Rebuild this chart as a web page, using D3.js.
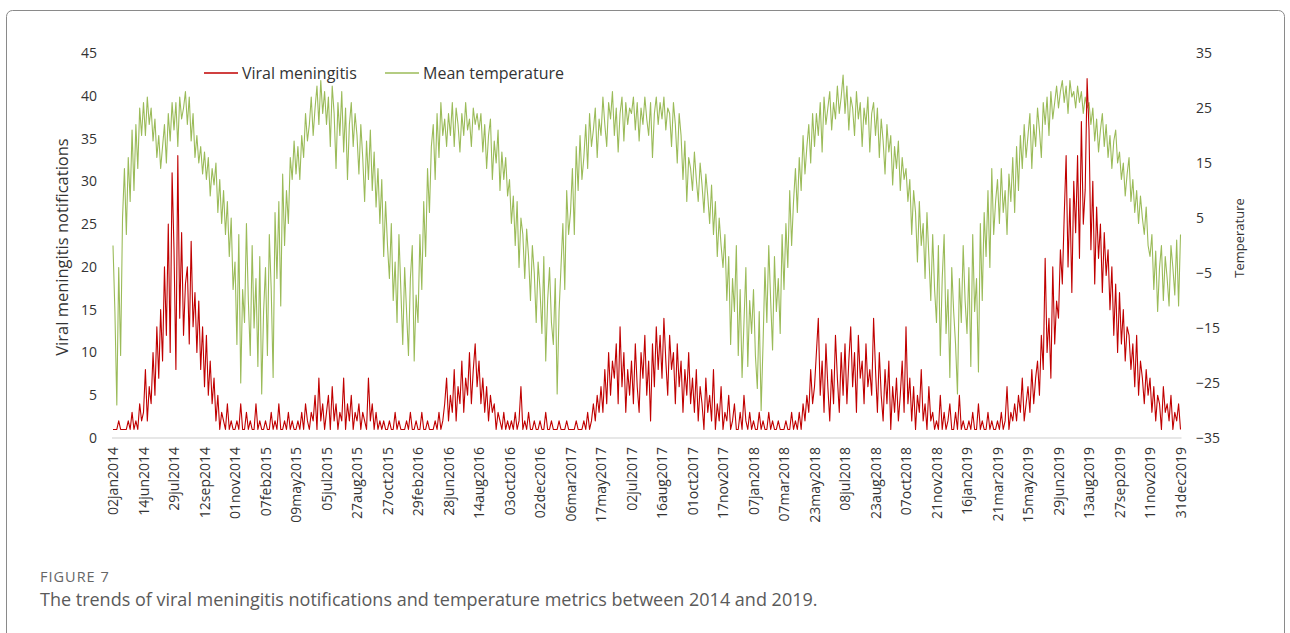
<!DOCTYPE html>
<html>
<head>
<meta charset="utf-8">
<script src="https://cdn.jsdelivr.net/npm/d3@7"></script>
<style>
  body { margin: 0; background: #fff; }
  text { font-family: "Open Sans", sans-serif; fill: #333; }
</style>
</head>
<body>
<div class="chart"></div>
<script>
// tick labels on the x axis (one every 16 samples)
var dateLabels = ["02jan2014", "14jun2014", "29jul2014", "12sep2014", "01nov2014", "07feb2015",
  "09may2015", "05jul2015", "27aug2015", "27oct2015", "29feb2016", "28jun2016", "14aug2016",
  "03oct2016", "02dec2016", "06mar2017", "17may2017", "02jul2017", "16aug2017", "01oct2017",
  "17nov2017", "07jan2018", "07mar2018", "23may2018", "08jul2018", "23aug2018", "07oct2018",
  "21nov2018", "16jan2019", "21mar2019", "15may2019", "29jun2019", "13aug2019", "27sep2019",
  "11nov2019", "31dec2019"];

var leftTicks = [0, 5, 10, 15, 20, 25, 30, 35, 40, 45];
var rightTicks = [-35, -25, -15, -5, 5, 15, 25, 35];

// viral meningitis notifications (one row per label gap)
var cases = [
  1, 1, 1, 2, 1, 1, 1, 1, 2, 1, 3, 1, 2, 1, 4, 2,
  3, 8, 2, 6, 4, 10, 5, 13, 7, 15, 9, 20, 12, 25, 10, 31,
  22, 8, 33, 14, 24, 12, 18, 20, 11, 23, 13, 17, 10, 16, 8, 13,
  6, 12, 5, 9, 4, 7, 2, 5, 1, 3, 2, 1, 4, 1, 2, 1,
  1, 2, 1, 4, 1, 1, 3, 1, 2, 1, 1, 4, 1, 2, 1, 1,
  2, 1, 1, 3, 1, 2, 1, 4, 1, 1, 2, 1, 3, 1, 2, 1,
  1, 2, 1, 3, 1, 4, 2, 1, 3, 2, 5, 1, 7, 2, 4, 1,
  3, 5, 1, 6, 2, 4, 1, 3, 2, 7, 1, 4, 2, 5, 1, 3,
  2, 4, 1, 3, 2, 1, 7, 2, 4, 1, 3, 1, 2, 1, 2, 1,
  1, 2, 1, 1, 3, 1, 2, 1, 1, 1, 2, 1, 3, 1, 1, 2,
  1, 1, 3, 1, 1, 2, 1, 1, 1, 2, 1, 3, 1, 2, 4, 7,
  2, 5, 3, 8, 2, 6, 4, 9, 3, 7, 5, 10, 4, 8, 11, 6,
  9, 4, 7, 3, 6, 2, 5, 3, 4, 1, 3, 2, 1, 3, 1, 2,
  1, 2, 1, 3, 1, 2, 6, 1, 2, 1, 3, 1, 1, 2, 1, 1,
  2, 1, 1, 3, 1, 1, 2, 1, 1, 1, 2, 1, 1, 1, 2, 1,
  1, 1, 1, 2, 1, 1, 1, 2, 1, 3, 1, 2, 4, 2, 5, 3,
  6, 3, 8, 4, 10, 5, 9, 7, 11, 4, 13, 6, 10, 3, 8, 5,
  9, 4, 11, 6, 3, 10, 7, 12, 5, 9, 2, 11, 6, 13, 8, 12,
  7, 14, 9, 5, 12, 8, 10, 4, 11, 6, 9, 3, 8, 5, 10, 4,
  7, 3, 8, 2, 6, 4, 1, 7, 3, 5, 2, 8, 1, 4, 2, 6,
  1, 3, 2, 5, 1, 2, 4, 1, 1, 3, 1, 5, 2, 1, 3, 1,
  2, 1, 1, 3, 1, 2, 1, 1, 3, 1, 2, 1, 1, 2, 1, 1,
  1, 2, 1, 1, 3, 1, 2, 1, 3, 1, 4, 2, 5, 3, 8, 4,
  6, 10, 14, 5, 9, 3, 11, 6, 2, 8, 4, 12, 7, 3, 10, 5,
  11, 4, 9, 13, 6, 10, 3, 12, 7, 9, 4, 11, 6, 8, 5, 14,
  8, 3, 10, 5, 2, 8, 4, 9, 1, 6, 3, 7, 2, 5, 9, 3,
  13, 4, 7, 2, 6, 1, 5, 3, 8, 2, 4, 1, 6, 2, 3, 1,
  2, 1, 5, 1, 3, 1, 2, 4, 1, 1, 3, 1, 5, 1, 2, 1,
  1, 2, 1, 3, 1, 1, 4, 1, 2, 1, 1, 3, 1, 2, 1, 1,
  2, 1, 3, 1, 2, 6, 1, 3, 2, 4, 2, 5, 3, 7, 2, 4,
  6, 3, 8, 4, 7, 9, 5, 12, 8, 21, 10, 14, 7, 20, 11, 16,
  14, 22, 18, 26, 33, 20, 28, 17, 30, 24, 33, 21, 37, 25, 29, 42,
  36, 22, 30, 18, 27, 21, 25, 17, 24, 19, 22, 15, 20, 12, 18, 10,
  17, 11, 15, 9, 13, 12, 8, 11, 6, 12, 5, 9, 7, 4, 8, 5,
  7, 3, 6, 2, 5, 4, 1, 6, 3, 4, 2, 5, 1, 3, 2, 4,
  1];

// mean temperature (one row per label gap)
var temperature = [
  0, -12, -29, -4, -20, 5, 14, 2, 16, 8, 21, 10, 22, 14, 25, 20,
  26, 20, 27, 22, 25, 19, 23, 16, 20, 14, 18, 22, 15, 24, 19, 26,
  21, 26, 18, 27, 23, 25, 28, 22, 27, 19, 24, 16, 20, 15, 18, 13,
  17, 12, 16, 9, 14, 11, 15, 6, 12, 4, 10, 2, 8, -2, 5, -8,
  -3, -18, 2, -25, -8, -14, 4, -10, -20, 0, -15, -6, -22, -2, -27, -12,
  -4, -20, 2, -8, -24, 6, -6, 8, -11, 13, 0, 10, 4, 16, 12, 19,
  13, 18, 12, 20, 16, 24, 19, 22, 27, 20, 25, 29, 22, 30, 24, 28,
  22, 27, 18, 29, 24, 14, 26, 20, 28, 17, 25, 12, 22, 26, 18, 24,
  20, 13, 22, 16, 8, 19, 12, 21, 10, 17, 7, 14, 4, 12, -2, 8,
  0, -6, 4, -10, -3, -14, 2, -8, -18, -4, -12, -20, -6, 0, -21, -9,
  -14, 2, -8, 8, -2, 14, 6, 18, 22, 12, 24, 16, 26, 20, 23, 18,
  24, 20, 26, 18, 25, 22, 17, 24, 20, 26, 21, 23, 18, 25, 22, 24,
  21, 24, 17, 22, 14, 20, 23, 12, 19, 15, 21, 10, 17, 12, 16, 9,
  12, 4, 9, 0, 8, -4, 5, 2, -6, 3, -2, -10, 0, -5, -14, -3,
  -8, -16, -2, -21, -10, -4, -14, -18, -6, -27, -12, -4, 4, -8, 10, 2,
  6, 14, 2, 18, 10, 20, 12, 16, 22, 14, 24, 18, 21, 25, 16, 23,
  20, 27, 22, 18, 26, 23, 28, 20, 25, 17, 24, 27, 19, 26, 22, 25,
  24, 27, 21, 26, 19, 25, 22, 27, 23, 20, 26, 16, 24, 27, 22, 26,
  23, 27, 21, 25, 24, 18, 26, 22, 15, 24, 20, 12, 19, 8, 16, 14,
  10, 17, 12, 8, 15, 11, 6, 13, 9, 4, 11, 2, 8, -2, 5, 0,
  -4, 2, -10, -2, -18, -6, -12, 0, -20, -8, -24, -14, -4, -22, -10, -16,
  -8, -20, -26, -12, -30, -18, -4, -14, 0, -10, -19, -2, -12, -6, -16, 2,
  -8, 4, -4, 10, 0, 8, 14, 6, 16, 10, 20, 13, 18, 22, 15, 24,
  18, 24, 20, 26, 17, 27, 22, 25, 28, 21, 26, 23, 29, 24, 27, 31,
  24, 29, 21, 27, 25, 20, 28, 23, 26, 18, 25, 22, 27, 17, 24, 26,
  20, 25, 16, 23, 19, 13, 22, 17, 20, 11, 18, 14, 19, 10, 16, 12,
  14, 8, 12, 2, 10, 6, -3, 8, 0, 4, -6, 6, -2, -10, 2, -8,
  -14, 0, -20, -6, 2, -16, -8, -24, -4, -12, -18, -27, -6, -14, 0, -10,
  -16, -4, -22, 2, -12, -6, -23, 4, -10, 6, -2, 10, -4, 14, 2, 8,
  12, 4, 14, 6, 10, 2, 13, 8, 16, 6, 18, 10, 20, 14, 22, 16,
  20, 24, 14, 22, 18, 25, 21, 16, 26, 22, 27, 20, 28, 23, 26, 29,
  25, 28, 30, 26, 29, 24, 30, 27, 28, 25, 29, 26, 28, 24, 27, 25,
  26, 22, 25, 19, 23, 17, 21, 24, 18, 22, 16, 20, 14, 19, 21, 15,
  17, 12, 15, 9, 13, 16, 8, 12, 6, 10, 4, 9, 5, 2, 7, 0,
  -2, 2, -8, -1, -12, -4, 0, -10, -2, -6, -11, 0, -4, -9, 1, -11,
  2];

var svgWidth = 1290;
var svgHeight = 633;
var samplesPerLabel = 16;

var svg = d3.select(".chart")
  .append("svg")
  .attr("width", svgWidth)
  .attr("height", svgHeight);

// frame round the figure
svg.append("rect")
  .attr("x", 6.5)
  .attr("y", 10.5)
  .attr("width", 1278)
  .attr("height", 700)
  .attr("rx", 6)
  .attr("fill", "none")
  .attr("stroke", "#8a8a8a")
  .attr("stroke-width", 1);

var xScale = d3.scaleLinear()
  .domain([0, cases.length - 1])
  .range([113, 1180.5]);

var yLeft = d3.scaleLinear().domain([0, 45]).range([438, 53]);
var yRight = d3.scaleLinear().domain([-35, 35]).range([438, 53]);

// x axis line
svg.append("line")
  .attr("x1", xScale(0) - 1)
  .attr("x2", xScale(cases.length - 1) + 1)
  .attr("y1", yLeft(0))
  .attr("y2", yLeft(0))
  .attr("stroke", "#d0d0d0")
  .attr("stroke-width", 1.2);

// left axis
var leftAxis = d3.axisLeft(yLeft).tickValues(leftTicks).tickSize(0).tickPadding(0);
var gLeft = svg.append("g")
  .attr("transform", "translate(97,0)")
  .call(leftAxis);
gLeft.select(".domain").remove();
gLeft.selectAll("text").attr("font-size", "14px");

// right axis
var rightAxis = d3.axisRight(yRight).tickValues(rightTicks).tickSize(0).tickPadding(0);
var gRight = svg.append("g")
  .attr("transform", "translate(1196,0)")
  .call(rightAxis);
gRight.select(".domain").remove();
gRight.selectAll("text").attr("font-size", "14px");

// rotated date labels
var tickIdx = dateLabels.map((d, i) => i * samplesPerLabel);
var bottomAxis = d3.axisBottom(xScale)
  .tickValues(tickIdx)
  .tickFormat((d, i) => dateLabels[i])
  .tickSize(0)
  .tickPadding(0);
var gBottom = svg.append("g")
  .attr("transform", `translate(0, ${yLeft(0)})`)
  .call(bottomAxis);
gBottom.select(".domain").remove();
gBottom.selectAll("text")
  .attr("font-size", "14px")
  .attr("text-anchor", "end")
  .attr("dy", "0.35em")
  .attr("transform", "translate(0,9) rotate(-90)")
  .attr("y", 0)
  .attr("x", 0);

// series lines
var tempLine = d3.line()
  .x((d, i) => xScale(i))
  .y(d => yRight(d));

var casesLine = d3.line()
  .x((d, i) => xScale(i))
  .y(d => yLeft(d));

svg.append("path")
  .datum(temperature)
  .attr("d", tempLine)
  .attr("fill", "none")
  .attr("stroke", "#9bbb59")
  .attr("stroke-width", 1.1)
  .attr("stroke-linejoin", "round");

svg.append("path")
  .datum(cases)
  .attr("d", casesLine)
  .attr("fill", "none")
  .attr("stroke", "#c00000")
  .attr("stroke-width", 1.1)
  .attr("stroke-linejoin", "round");

// axis titles
svg.append("text")
  .attr("transform", "translate(68,247) rotate(-90)")
  .attr("text-anchor", "middle")
  .attr("font-size", "16.5px")
  .text("Viral meningitis notifications");

svg.append("text")
  .attr("transform", "translate(1244,238) rotate(-90)")
  .attr("text-anchor", "middle")
  .attr("font-size", "13px")
  .text("Temperature");

// legend
var legend = svg.append("g");
var legendItems = [
  { label: "Viral meningitis", color: "#c00000", x: 204 },
  { label: "Mean temperature", color: "#9bbb59", x: 385 }
];
legendItems.forEach(function (item) {
  legend.append("line")
    .attr("x1", item.x).attr("x2", item.x + 34)
    .attr("y1", 73).attr("y2", 73)
    .attr("stroke", item.color)
    .attr("stroke-width", 1.5);
  legend.append("text")
    .attr("x", item.x + 38)
    .attr("y", 73)
    .attr("dy", "0.35em")
    .attr("font-size", "16px")
    .text(item.label);
});

// caption
svg.append("text")
  .attr("x", 40)
  .attr("y", 582)
  .attr("font-size", "14.5px")
  .attr("letter-spacing", "1px")
  .style("fill", "#666")
  .text("FIGURE 7");
svg.append("text")
  .attr("x", 40)
  .attr("y", 606)
  .attr("font-size", "18px")
  .style("fill", "#5a5a5a")
  .text("The trends of viral meningitis notifications and temperature metrics between 2014 and 2019.");
</script>
</body>
</html>
